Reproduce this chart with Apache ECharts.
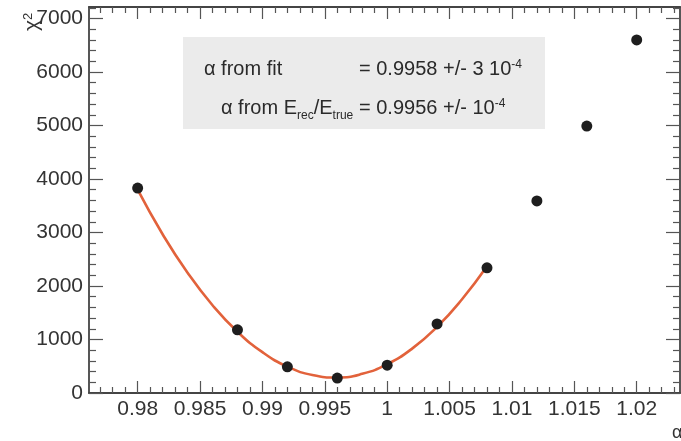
<!DOCTYPE html>
<html>
<head>
<meta charset="utf-8">
<script src="https://cdn.jsdelivr.net/npm/echarts@6/dist/echarts.min.js"></script>
<style>
html,body{margin:0;padding:0;background:#fff;}
#c{width:681px;height:441px;}
</style>
</head>
<body>
<div id="c"></div>
<script>
// ---- data ----
const alphaValues = [0.980, 0.988, 0.992, 0.996, 1.000, 1.004, 1.008, 1.012, 1.016, 1.020];
const chi2Values  = [3830, 1180, 490, 280, 520, 1290, 2340, 3590, 4990, 6600];
// fitted parabola
const fitAlpha = [0.980, 0.982, 0.984, 0.986, 0.988, 0.990, 0.992, 0.994, 0.996, 0.998, 1.000, 1.002, 1.004, 1.006, 1.008];
const fitChi2  = [3800, 2967, 2248, 1640, 1145, 763, 493, 336, 290, 358, 538, 830, 1235, 1753, 2370];
const xMajorTicks = [0.980, 0.985, 0.990, 0.995, 1.000, 1.005, 1.010, 1.015, 1.020];
const xMinorTicks = [0.977,0.978,0.979,0.981,0.982,0.983,0.984,0.986,0.987,0.988,0.989,0.991,0.992,0.993,0.994,0.996,0.997,0.998,0.999,1.001,1.002,1.003,1.004,1.006,1.007,1.008,1.009,1.011,1.012,1.013,1.014,1.016,1.017,1.018,1.019,1.021,1.022,1.023];
const yMajorTicks = [0, 1000, 2000, 3000, 4000, 5000, 6000, 7000];
const yMinorTicks = [200,400,600,800,1200,1400,1600,1800,2200,2400,2600,2800,3200,3400,3600,3800,4200,4400,4600,4800,5200,5400,5600,5800,6200,6400,6600,6800,7200];
const X_MIN = 0.9761, X_MAX = 1.02347, Y_MIN = 0, Y_MAX = 7215;

const FONT = 'Liberation Sans';
const AX = '#444';
const chart = echarts.init(document.getElementById('c'), null, {renderer: 'canvas'});

function xAx(pos, ticks, len, labels, line) {
  return {
    type: 'value', position: pos, min: X_MIN, max: X_MAX,
    axisLine: {show: line, onZero: false, lineStyle: {color: AX, width: 1.8}},
    axisTick: {show: true, inside: true, length: len, customValues: ticks, lineStyle: {color: '#555', width: 1.2}},
    axisLabel: labels ? {show: true, customValues: ticks, margin: 6, color: '#333', fontFamily: FONT, fontSize: 21,
      formatter: v => String(+(+v).toFixed(3))} : {show: false},
    splitLine: {show: false}
  };
}
function yAx(pos, ticks, len, labels, line) {
  return {
    type: 'value', position: pos, min: Y_MIN, max: Y_MAX,
    axisLine: {show: line, onZero: false, lineStyle: {color: AX, width: 1.8}},
    axisTick: {show: true, inside: true, length: len, customValues: ticks, lineStyle: {color: '#555', width: 1.2}},
    axisLabel: labels ? {show: true, customValues: ticks, margin: 6, color: '#333', fontFamily: FONT, fontSize: 21,
      formatter: v => String(Math.round(v))} : {show: false},
    splitLine: {show: false}
  };
}

const fitData = fitAlpha.map((a, i) => [a, fitChi2[i]]);
const pointData = alphaValues.map((a, i) => [a, chi2Values[i]]);

const T = '20px "Liberation Sans"';
const supS = {fontSize: 12, fontFamily: FONT, verticalAlign: 'top', fill: '#2a2a2a'};
const subS = {fontSize: 12, lineHeight: 12, fontFamily: FONT, verticalAlign: 'bottom', fill: '#2a2a2a'};

chart.setOption({
  animation: false,
  backgroundColor: '#fff',
  grid: {left: 89, right: 1, top: 7, bottom: 48, containLabel: false},
  xAxis: [
    xAx('bottom', xMajorTicks, 12, true, true),
    xAx('bottom', xMinorTicks, 6, false, false),
    xAx('top', xMajorTicks, 12, false, true),
    xAx('top', xMinorTicks, 6, false, false)
  ],
  yAxis: [
    yAx('left', yMajorTicks, 14, true, true),
    yAx('left', yMinorTicks, 7, false, false),
    yAx('right', yMajorTicks, 14, false, true),
    yAx('right', yMinorTicks, 7, false, false)
  ],
  series: [
    {type: 'line', data: fitData, xAxisIndex: 0, yAxisIndex: 0, smooth: true, showSymbol: false, symbol: 'none',
      lineStyle: {color: '#e2623b', width: 2.6}, z: 2},
    {type: 'scatter', data: pointData, xAxisIndex: 0, yAxisIndex: 0, symbol: 'circle', symbolSize: 11,
      itemStyle: {color: '#1e1e1e', opacity: 1}, z: 3}
  ],
  graphic: [
    {type: 'rect', left: 183, top: 37, shape: {width: 362, height: 92}, style: {fill: '#ebebeb'}, z: 1},
    {type: 'text', x: 204, y: 69, z: 5, style: {
      text: 'α from fit', font: T, fill: '#2a2a2a', textVerticalAlign: 'middle'}},
    {type: 'text', x: 359, y: 69, z: 5, style: {
      text: '= 0.9958 +/- 3 10{sup|-4}', font: T, fill: '#2a2a2a', textVerticalAlign: 'middle', rich: {sup: supS}}},
    {type: 'text', x: 221, y: 108, z: 5, style: {
      text: 'α from E{sub|rec}/E{sub|true}', font: T, lineHeight: 28, fill: '#2a2a2a', textVerticalAlign: 'middle', rich: {sub: subS}}},
    {type: 'text', x: 359, y: 108, z: 5, style: {
      text: '= 0.9956 +/- 10{sup|-4}', font: T, fill: '#2a2a2a', textVerticalAlign: 'middle', rich: {sup: supS}}},
    {type: 'text', x: 43, y: 31, rotation: Math.PI / 2, z: 5, style: {
      text: 'χ{sup|2}', font: '21px "Liberation Sans"', fill: '#333', textAlign: 'left', textVerticalAlign: 'bottom',
      rich: {sup: {fontSize: 13, fontFamily: FONT, verticalAlign: 'top', fill: '#333'}}}},
    {type: 'text', left: 672, top: 424, z: 5, style: {
      text: 'α', font: '18px "Liberation Sans"', fill: '#333'}}
  ]
});
</script>
</body>
</html>
